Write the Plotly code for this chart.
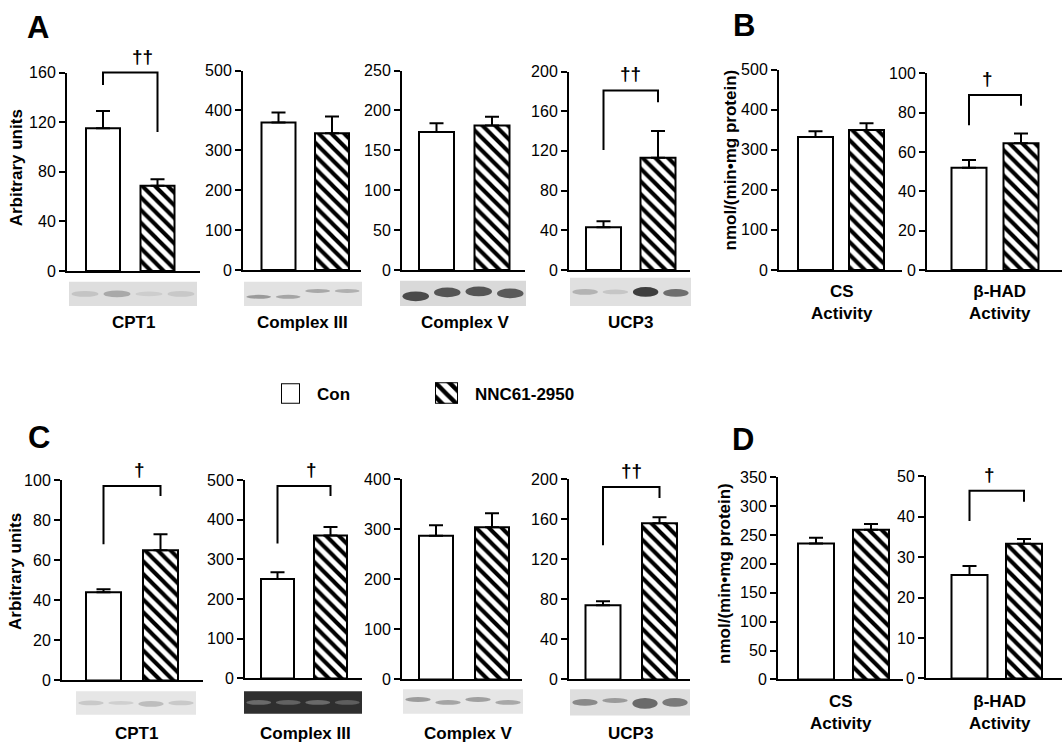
import plotly.graph_objects as go

W, H = 1063, 751
FONT = "Liberation Sans, Arial, Helvetica, sans-serif"

# ---------------- data ----------------
series_names = ["Con", "NNC61-2950"]

labels_A = ["CPT1", "Complex III", "Complex V", "UCP3"]
con_A = [115, 370, 173, 43]
con_A_sem = [14, 25, 11, 6]
nnc_A = [68.6, 343, 181, 113]
nnc_A_sem = [5.4, 42, 11, 27]
ymax_A = [160, 500, 250, 200]
dtick_A = [40, 100, 50, 40]

labels_B = ["CS<br>Activity", "β-HAD<br>Activity"]
con_B = [332, 52]
con_B_sem = [14, 4]
nnc_B = [349, 64.5]
nnc_B_sem = [17, 5]
ymax_B = [500, 100]
dtick_B = [100, 20]

labels_C = ["CPT1", "Complex III", "Complex V", "UCP3"]
con_C = [44, 251, 287, 74]
con_C_sem = [1.5, 17, 21, 4]
nnc_C = [65, 360, 304, 156]
nnc_C_sem = [8, 22, 28, 6]
ymax_C = [100, 500, 400, 200]
dtick_C = [20, 100, 100, 40]

labels_D = ["CS<br>Activity", "β-HAD<br>Activity"]
con_D = [235, 25.6]
con_D_sem = [10, 2.2]
nnc_D = [259, 33.3]
nnc_D_sem = [10, 1.2]
ymax_D = [350, 50]
dtick_D = [50, 10]

# significance marks: (panel index, bracket top, left end, right end, symbol)
sig_marks = [
    (0, 160, 150, 112, "††"),
    (3, 181, 121, 169, "††"),
    (5, 89, 73.6, 83.6, "†"),
    (6, 97, 68, 92, "†"),
    (7, 485, 340, 460, "†"),
    (9, 192, 134, 181, "††"),
    (11, 46.4, 38.9, 43.7, "†"),
]

# ---------------- layout geometry (pixels) ----------------
# x0 (y-axis), x1 (x-axis end), con centre, nnc centre, bar width, y of top tick, y of zero
geom = [
    (67, 200, 103, 157.5, 34, 66, 269),
    (243, 361, 278.5, 332, 34, 64, 268),
    (402, 525, 436.5, 492, 35, 64, 268),
    (569, 690, 603.5, 658, 35, 65, 268),
    (779, 902, 815.5, 866.5, 35, 63, 268),
    (927, 1062, 969, 1021, 35, 67, 268),
    (62, 203, 103.5, 160.5, 35, 483, 688),
    (245, 362, 277.5, 330.5, 33, 483, 686),
    (402, 522, 436, 492, 34, 482, 687),
    (569, 690, 603, 659.5, 35, 482, 687),
    (778, 903, 816, 871, 36, 480, 687),
    (926, 1062, 969.5, 1024, 36, 479, 686),
]
label_pos = [(133, 322), (302, 322), (465, 322), (630, 322),
             (842, 301), (1000, 301),
             (136, 742), (305, 742), (468, 742), (630, 742),
             (841, 721), (1000, 721)]
# blots: x0, x1, y0, y1, background, band colours, band heights, band y offsets
blots = [
    (69, 197, 280, 305, "#dedede", ["#c4c4c4", "#a9a9a9", "#cdcdcd", "#c8c8c8"], [6, 7, 5, 6], [0, 0, 0, 0]),
    (244, 362, 280, 305, "#e2e2e2", ["#9a9a9a", "#a5a5a5", "#a8a8a8", "#b0b0b0"], [4, 4, 4, 4], [3, 3, -3, -3]),
    (400, 526, 279, 305, "#d9d9d9", ["#4a4a4a", "#555555", "#555555", "#5a5a5a"], [10, 10, 10, 10], [3, -1, -2, 0]),
    (570, 691, 276, 305, "#e0e0e0", ["#b3b3b3", "#c6c6c6", "#3e3e3e", "#6e6e6e"], [6, 5, 10, 8], [0, 0, 0, 1]),
    (76, 196, 699, 723, "#e6e6e6", ["#c9c9c9", "#cfcfcf", "#bdbdbd", "#c9c9c9"], [5, 4, 6, 5], [0, 0, 1, 0]),
    (244, 362, 699, 722, "#2f2f2f", ["#6a6a6a", "#626262", "#6a6a6a", "#5e5e5e"], [5, 5, 5, 5], [0, 0, 0, 0]),
    (403, 523, 697, 722, "#e6e6e6", ["#9c9c9c", "#a5a5a5", "#a0a0a0", "#a8a8a8"], [5, 5, 5, 5], [-2, 1, -2, 1]),
    (570, 690, 697, 724, "#dedede", ["#8a8a8a", "#9a9a9a", "#6a6a6a", "#7a7a7a"], [7, 5, 11, 9], [0, -2, 1, 0]),
]

all_con = con_A + con_B + con_C + con_D
all_con_sem = con_A_sem + con_B_sem + con_C_sem + con_D_sem
all_nnc = nnc_A + nnc_B + nnc_C + nnc_D
all_nnc_sem = nnc_A_sem + nnc_B_sem + nnc_C_sem + nnc_D_sem
all_ymax = ymax_A + ymax_B + ymax_C + ymax_D
all_dtick = dtick_A + dtick_B + dtick_C + dtick_D
all_labels = labels_A + labels_B + labels_C + labels_D

PATTERN = dict(shape="\\", fgcolor="black", bgcolor="white", size=9, solidity=0.45,
               fgopacity=1, fillmode="replace")
LINE = dict(color="black", width=2)

fig = go.Figure()
layout = dict(
    width=W, height=H, margin=dict(l=0, r=0, t=0, b=0),
    paper_bgcolor="white", plot_bgcolor="white",
    barmode="overlay", showlegend=False,
    font=dict(family=FONT, color="black", size=16),
)
shapes, annotations = [], []


def to_px(i, xv, v):
    x0, x1, c0, c1, w, yt, yz = geom[i]
    px = c0 + xv * (c1 - c0)
    py = yz - v / all_ymax[i] * (yz - yt)
    return px / W, 1 - py / H


for i in range(12):
    k = i + 1
    x0, x1, c0, c1, w, yt, yz = geom[i]
    unit = c1 - c0
    xa, ya = f"x{k}", f"y{k}"
    fig.add_trace(go.Bar(
        x=[0], y=[all_con[i]], width=w / unit, name=series_names[0],
        marker=dict(color="white", line=LINE),
        error_y=dict(type="data", symmetric=False, array=[all_con_sem[i]], arrayminus=[0],
                     color="black", thickness=2, width=7),
        xaxis=xa, yaxis=ya, hoverinfo="skip"))
    fig.add_trace(go.Bar(
        x=[1], y=[all_nnc[i]], width=w / unit, name=series_names[1],
        marker=dict(color="black", line=LINE, pattern=PATTERN),
        error_y=dict(type="data", symmetric=False, array=[all_nnc_sem[i]], arrayminus=[0],
                     color="black", thickness=2, width=7),
        xaxis=xa, yaxis=ya, hoverinfo="skip"))
    sfx = "" if k == 1 else str(k)
    layout["xaxis" + sfx] = dict(
        domain=[x0 / W, x1 / W], range=[(x0 - c0) / unit, (x1 - c0) / unit],
        showline=True, linecolor="black", linewidth=2, showticklabels=False,
        ticks="", showgrid=False, zeroline=False, anchor=ya, fixedrange=True)
    ymax = all_ymax[i]
    dt = all_dtick[i]
    layout["yaxis" + sfx] = dict(
        domain=[1 - yz / H, 1 - yt / H], range=[0, ymax],
        tickvals=[j * dt for j in range(int(round(ymax / dt)) + 1)],
        ticks="outside", ticklen=6, tickwidth=2, tickcolor="black",
        showline=True, linecolor="black", linewidth=2, showgrid=False, zeroline=False,
        anchor=xa, tickfont=dict(size=16, family=FONT), fixedrange=True)
    lx, ly = label_pos[i]
    annotations.append(dict(x=lx / W, y=1 - ly / H, xref="paper", yref="paper",
                            text=f"<b>{all_labels[i]}</b>", showarrow=False,
                            font=dict(size=17), xanchor="center", yanchor="middle"))

# significance brackets
for (i, top, le, re_, sym) in sig_marks:
    xl, yl = to_px(i, 0, le)
    xr, yr = to_px(i, 1, re_)
    _, ytp = to_px(i, 0, top)
    path = f"M {xl} {yl} L {xl} {ytp} L {xr} {ytp} L {xr} {yr}"
    shapes.append(dict(type="path", path=path, xref="paper", yref="paper",
                       line=dict(color="black", width=2)))
    annotations.append(dict(x=(xl + xr) / 2, y=ytp, xref="paper", yref="paper",
                            text=f"<b>{sym}</b>", showarrow=False, yanchor="bottom",
                            yshift=4, font=dict(size=19)))

# blots
for (bx0, bx1, by0, by1, bg, bands, bh, boff) in blots:
    shapes.append(dict(type="rect", xref="paper", yref="paper", layer="above",
                       x0=bx0 / W, x1=bx1 / W, y0=1 - by1 / H, y1=1 - by0 / H,
                       fillcolor=bg, line=dict(width=0)))
    lw = (bx1 - bx0) / 4
    cy = (by0 + by1) / 2
    for j, col in enumerate(bands):
        cx = bx0 + (j + 0.5) * lw
        hh = bh[j] / 2
        shapes.append(dict(type="circle", xref="paper", yref="paper", layer="above",
                           x0=(cx - lw * 0.42) / W, x1=(cx + lw * 0.42) / W,
                           y0=1 - (cy + boff[j] + hh) / H, y1=1 - (cy + boff[j] - hh) / H,
                           fillcolor=col, line=dict(width=0)))

# axis titles
for (tx, ty, txt) in [(16, 164, "Arbitrary units"), (730, 156, "nmol/(min•mg protein)"),
                      (16, 577, "Arbitrary units"), (725, 579, "nmol/(min•mg protein)")]:
    annotations.append(dict(x=tx / W, y=1 - ty / H, xref="paper", yref="paper",
                            text=f"<b>{txt}</b>", textangle=-90, showarrow=False,
                            font=dict(size=17), xanchor="center", yanchor="middle"))

# panel letters
for (tx, ty, txt) in [(38, 20, "A"), (744, 18, "B"), (39, 439, "C"), (743, 442, "D")]:
    annotations.append(dict(x=tx / W, y=1 - ty / H, xref="paper", yref="paper",
                            text=f"<b>{txt}</b>", showarrow=False,
                            font=dict(size=31), xanchor="center", yanchor="middle"))

# legend (custom boxes)
legend_boxes = [(281, 300, 384, 405, None, 315), (435, 458, 383, 405, PATTERN, 473)]
for n, (lx0, lx1, ly0, ly1, pat, tx) in enumerate(legend_boxes):
    k = 13 + n
    mk = dict(color="white", line=LINE)
    if pat:
        mk = dict(color="black", line=LINE, pattern=dict(pat, size=10))
    fig.add_trace(go.Bar(x=[0], y=[1], width=1, marker=mk, name=series_names[n],
                         xaxis=f"x{k}", yaxis=f"y{k}", cliponaxis=False, hoverinfo="skip"))
    layout[f"xaxis{k}"] = dict(domain=[lx0 / W, lx1 / W], range=[-0.5, 0.5], visible=False,
                               anchor=f"y{k}", fixedrange=True)
    layout[f"yaxis{k}"] = dict(domain=[1 - ly1 / H, 1 - ly0 / H], range=[0, 1], visible=False,
                               anchor=f"x{k}", fixedrange=True)
    annotations.append(dict(x=tx / W, y=1 - 395 / H, xref="paper", yref="paper",
                            text=f"<b>{series_names[n]}</b>", showarrow=False,
                            font=dict(size=17), xanchor="left", yanchor="middle"))

layout["shapes"] = shapes
layout["annotations"] = annotations
fig.update_layout(**layout)
fig.write_html("out.html", config={"displayModeBar": False},
               post_script="document.body.style.margin='0';document.body.style.overflow='hidden';")
